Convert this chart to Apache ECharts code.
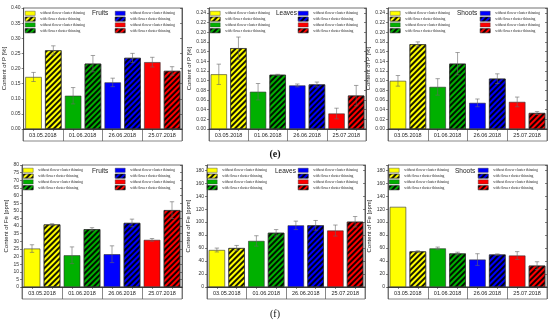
<!DOCTYPE html>
<html><head><meta charset="utf-8">
<script src="https://cdn.jsdelivr.net/npm/echarts@6/dist/echarts.min.js"></script>
<style>html,body{margin:0;padding:0;background:#fff}#c{width:550px;height:322px}</style>
</head><body><div id="c"></div>
<script>
// ---------- data ----------
const dates = ['03.05.2018', '01.06.2018', '26.06.2018', '25.07.2018'];
const treatments = ['without flower cluster thinning', 'with flower cluster thinning'];
const panelTitles = ['Fruits', 'Leaves', 'Shoots', 'Fruits', 'Leaves', 'Shoots'];
const yAxisNames = ['Content of P [%]', 'Content of P [%]', 'Content of P [%]',
                    'Content of Fe [ppm]', 'Content of Fe [ppm]', 'Content of Fe [ppm]'];
const captions = ['(e)', '(f)'];

// P content [%]
const pFruitsWithout    = [0.172, 0.110, 0.154, 0.221];
const pFruitsWithoutErr = [0.015, 0.027, 0.014, 0.016];
const pFruitsWith       = [0.260, 0.216, 0.235, 0.192];
const pFruitsWithErr    = [0.015, 0.027, 0.015, 0.014];

const pLeavesWithout    = [0.113, 0.077, 0.090, 0.032];
const pLeavesWithoutErr = [0.021, 0.017, 0.003, 0.011];
const pLeavesWith       = [0.167, 0.112, 0.092, 0.069];
const pLeavesWithErr    = [0.023, 0.001, 0.005, 0.021];

const pShootsWithout    = [0.0995, 0.087, 0.054, 0.056];
const pShootsWithoutErr = [0.011, 0.017, 0.008, 0.010];
const pShootsWith       = [0.175, 0.135, 0.104, 0.033];
const pShootsWithErr    = [0.005, 0.023, 0.010, 0.003];

// Fe content [ppm]
const feFruitsWithout    = [25.2, 20.8, 21.5, 30.9];
const feFruitsWithoutErr = [2.5, 5.5, 5.5, 0.9];
const feFruitsWith       = [41.0, 37.9, 42.0, 50.4];
const feFruitsWithErr    = [0.5, 1.0, 2.5, 5.5];

const feLeavesWithout    = [57, 71, 95, 87];
const feLeavesWithoutErr = [3, 8, 6.5, 8.5];
const feLeavesWith       = [60, 83.5, 95, 100.6];
const feLeavesWithErr    = [4, 5, 7.5, 8];

const feShootsWithout    = [123.5, 59.5, 42.3, 48.5];
const feShootsWithoutErr = [0, 2, 9, 6];
const feShootsWith       = [54.8, 51.6, 50, 32.9];
const feShootsWithErr    = [1, 2, 1, 6];

// axis ranges (tick labels)
const yMax      = [0.40, 0.25, 0.25, 80, 188, 188];
const yInterval = [0.05, 0.02, 0.02, 5, 20, 20];
const yDecimals = [2, 2, 2, 0, 0, 0];

const panelData = [
  [pFruitsWithout, pFruitsWithoutErr, pFruitsWith, pFruitsWithErr],
  [pLeavesWithout, pLeavesWithoutErr, pLeavesWith, pLeavesWithErr],
  [pShootsWithout, pShootsWithoutErr, pShootsWith, pShootsWithErr],
  [feFruitsWithout, feFruitsWithoutErr, feFruitsWith, feFruitsWithErr],
  [feLeavesWithout, feLeavesWithoutErr, feLeavesWith, feLeavesWithErr],
  [feShootsWithout, feShootsWithoutErr, feShootsWith, feShootsWithErr]
];

// ---------- styles / layout ----------
const dateColors = ['#ffff00', '#00b000', '#0000ff', '#ff0000'];
const hatch = { symbol: 'rect', symbolSize: 1, dashArrayX: [1, 0], dashArrayY: [1.1, 1.9],
                rotation: -Math.PI / 4, color: 'rgba(0,0,0,0.9)' };
const grids = [
  { left: 23, top: 8, width: 159, height: 121 },
  { left: 209, top: 8, width: 157, height: 121 },
  { left: 388, top: 8, width: 159, height: 121 },
  { left: 22, top: 165, width: 160, height: 122 },
  { left: 207, top: 165, width: 158, height: 122 },
  { left: 388, top: 165, width: 159, height: 122 }
];
const legendPos = [
  [[25, 11], [115, 11]], [[210, 11], [298, 11]], [[390, 11], [480, 11]],
  [[23, 168], [115, 168]], [[207, 168], [298, 168]], [[389, 168], [478, 168]]
];
const titlePos = [[92, 10], [276, 10], [457, 10], [92, 168], [275, 168], [455, 168]];
const boxH = 12;
const axisColor = '#333';

const slotNames = [];
dates.forEach(d => treatments.forEach(t => slotNames.push(d + ' ' + t)));
const seriesName = (c, t) => treatments[t] + '\u200b'.repeat(c + 1);

const option = {
  animation: false,
  backgroundColor: '#fff',
  textStyle: { fontFamily: 'Liberation Sans, Arial, sans-serif' },
  grid: [], xAxis: [], yAxis: [], series: [], legend: [], title: []
};

captions.forEach((cap, i) => option.title.push({
  text: cap, left: 'center', top: i === 0 ? 144 : 304,
  textStyle: { fontFamily: 'Liberation Serif, serif', fontSize: 10,
               fontWeight: i === 0 ? 'bold' : 'normal', color: '#111' }
}));

function renderErr(params, api) {
  const x = api.value(0), v = api.value(1), e = api.value(2);
  if (!e) return null;
  const hi = api.coord([x, v + e]), lo = api.coord([x, v - e]);
  const w = 2.2, st = { stroke: '#666', lineWidth: 0.6 };
  return { type: 'group', children: [
    { type: 'line', shape: { x1: hi[0], y1: hi[1], x2: lo[0], y2: lo[1] }, style: st },
    { type: 'line', shape: { x1: hi[0] - w, y1: hi[1], x2: hi[0] + w, y2: hi[1] }, style: st },
    { type: 'line', shape: { x1: lo[0] - w, y1: lo[1], x2: lo[0] + w, y2: lo[1] }, style: st }
  ]};
}

panelData.forEach((pd, p) => {
  const g = grids[p];
  const gi = option.grid.length;
  option.grid.push({ left: g.left, top: g.top, width: g.width, height: g.height,
                     show: true, borderColor: axisColor, borderWidth: 0.7, containLabel: false });
  option.grid.push({ left: g.left, top: g.top + g.height, width: g.width, height: boxH,
                     show: true, borderColor: '#555', borderWidth: 0.7 });
  const xi = option.xAxis.length, yi = option.yAxis.length;
  option.xAxis.push({ type: 'category', gridIndex: gi, data: slotNames, boundaryGap: true,
    axisLine: { show: true, lineStyle: { color: axisColor, width: 0.7 } },
    axisTick: { show: false }, axisLabel: { show: false } });
  option.xAxis.push({ type: 'category', gridIndex: gi, position: 'top', data: slotNames,
    axisLine: { show: true, lineStyle: { color: axisColor, width: 0.7 } },
    axisTick: { show: true, inside: true, length: 2, alignWithLabel: true, interval: 0,
                lineStyle: { color: axisColor, width: 0.6 } }, axisLabel: { show: false } });
  option.xAxis.push({ type: 'category', gridIndex: gi + 1, data: dates, boundaryGap: true,
    axisLine: { show: false }, axisTick: { show: false },
    splitLine: { show: true, interval: 0, lineStyle: { color: '#555', width: 0.7 } },
    axisLabel: { inside: true, margin: 3, fontSize: 5.5, color: '#222', interval: 0 } });
  const dec = yDecimals[p], iv = yInterval[p];
  option.yAxis.push({ type: 'value', gridIndex: gi, min: 0, max: yMax[p], interval: iv,
    name: yAxisNames[p], nameLocation: 'middle', nameGap: 13, nameRotate: 90,
    nameTextStyle: { fontSize: 6, color: '#222' },
    axisLine: { show: true, lineStyle: { color: axisColor, width: 0.7 } },
    axisTick: { show: true, inside: false, length: 2, lineStyle: { color: axisColor, width: 0.6 } },
    splitLine: { show: false },
    axisLabel: { fontSize: 5, color: '#333', margin: 3,
      formatter: v => (Math.abs(v / iv - Math.round(v / iv)) > 1e-6 ? '' : v.toFixed(dec)) } });
  option.yAxis.push({ type: 'value', gridIndex: gi, position: 'right', min: 0, max: yMax[p], interval: iv,
    axisLine: { show: true, lineStyle: { color: axisColor, width: 0.7 } },
    axisTick: { show: true, inside: true, length: 2, lineStyle: { color: axisColor, width: 0.6 } },
    splitLine: { show: false }, axisLabel: { show: false } });
  option.yAxis.push({ type: 'value', gridIndex: gi + 1, show: false, min: 0, max: 1 });

  const errData = [];
  for (let c = 0; c < 4; c++) {
    for (let t = 0; t < 2; t++) {
      const vals = pd[t * 2], errs = pd[t * 2 + 1];
      const k = c * 2 + t;
      const itemStyle = { color: dateColors[c], borderColor: '#333', borderWidth: 0.6 };
      if (t === 1) itemStyle.decal = hatch;
      option.series.push({
        type: 'bar', name: seriesName(c, t), xAxisIndex: xi, yAxisIndex: yi,
        stack: 'panel' + p, barWidth: '83%', itemStyle,
        data: slotNames.map((_, j) => (j === k ? vals[c] : '-'))
      });
      errData.push([k, vals[c], errs[c]]);
    }
  }
  option.series.push({ type: 'custom', xAxisIndex: xi, yAxisIndex: yi, z: 5,
    renderItem: renderErr, encode: { x: 0, y: 1 }, data: errData, silent: true });

  [0, 1].forEach(side => {
    const names = [];
    [side * 2, side * 2 + 1].forEach(c => [0, 1].forEach(t => names.push(seriesName(c, t))));
    option.legend.push({ data: names, orient: 'vertical', left: legendPos[p][side][0],
      top: legendPos[p][side][1], padding: 0, itemWidth: 10, itemHeight: 4.2, itemGap: 1.2,
      selectedMode: false, icon: 'rect',
      itemStyle: { borderColor: '#333', borderWidth: 0.4 },
      textStyle: { fontSize: 3.6, lineHeight: 4.2, color: '#222', fontFamily: 'Liberation Serif, serif' },
      formatter: n => n.replace(/\u200b/g, '') });
  });
  option.title.push({ text: panelTitles[p], left: titlePos[p][0], top: titlePos[p][1], padding: 0,
    textStyle: { fontSize: 6.5, fontWeight: 'normal', color: '#222' } });
});

const chart = echarts.init(document.getElementById('c'), null, { renderer: 'canvas' });
chart.setOption(option);
</script></body></html>
